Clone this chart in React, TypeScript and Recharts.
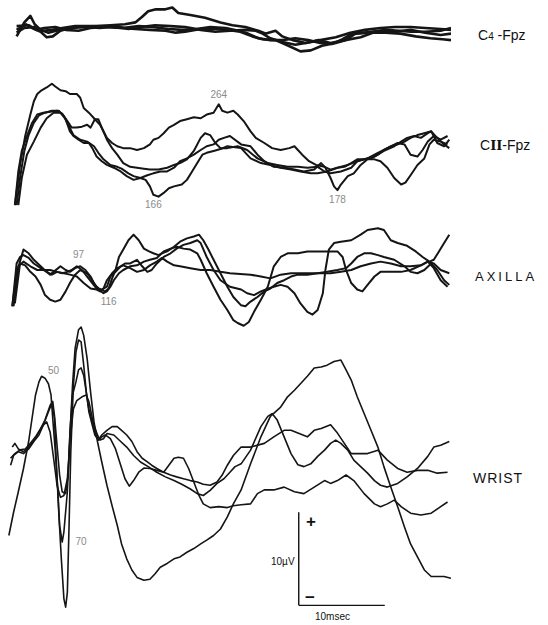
import React from 'react'
import { LineChart, Line, XAxis, YAxis, ReferenceLine, ReferenceDot } from 'recharts'

type Pt = [number, number]

// each point is [time in msec, amplitude in µV], positive up
const c4A: Pt[] = [[0.5,-0.9],[1.4,0.6],[2.1,1.3],[2.6,0.4],[3.3,-0.2],[4.2,-0.5],[5.1,-0.3],[6.3,0],[7.9,0.1],[9.7,0.2],[11.4,0.3],[13.1,0.4],[14.3,0.6],[15.1,1.2],[15.8,1.8],[16.7,2.0],[17.8,2.0],[18.6,2.2],[19.3,1.6],[20.7,1.4],[22.4,1.1],[24.2,0.6],[25.6,0.3],[27.1,0.1],[28.6,-0.3],[29.5,-0.6],[30.6,-0.3],[31.4,-0.9],[32.6,-1.3],[34.1,-1.6],[35.8,-1.3],[37.6,-1.0],[39.3,-0.5],[41.0,-0.2],[42.8,0],[44.5,0.1],[46.3,0.1],[48.0,0],[49.8,-0.1],[51.0,-0.2]]
const c4B: Pt[] = [[0.5,-0.2],[1.6,0.4],[2.3,0],[3.3,-0.4],[4.0,-1.0],[4.7,-0.9],[5.6,-0.3],[6.7,0],[8.5,0.1],[10.2,0],[12.0,0.2],[13.5,-0.1],[14.9,0.1],[16.6,0.3],[18.4,0.2],[20.1,0.1],[21.9,-0.2],[23.6,-0.4],[25.3,-0.3],[27.1,-0.2],[28.3,-0.3],[29.1,-0.6],[30.0,-1.1],[31.4,-1.5],[32.9,-1.8],[34.1,-1.6],[35.6,-1.3],[37.0,-1.6],[38.7,-1.3],[39.9,-0.6],[41.0,-0.5],[42.8,-0.3],[44.5,-0.4],[46.3,-0.2],[48.0,-0.5],[49.8,-0.75],[51.0,-0.6]]
const c4C: Pt[] = [[0.5,0.2],[1.9,0.3],[2.8,-0.2],[3.7,0],[5.0,0.1],[6.2,-0.2],[7.7,-0.3],[9.1,0],[10.8,0.1],[12.6,0],[14.3,-0.1],[16.0,-0.2],[17.8,-0.3],[19.0,-0.5],[20.1,-0.4],[21.9,-0.1],[23.6,-0.1],[25.1,-0.2],[26.5,-0.4],[27.9,-0.9],[29.1,-1.2],[30.6,-1.3],[32.1,-1.9],[33.5,-2.5],[34.7,-2.4],[36.0,-1.9],[37.6,-1.6],[38.7,-1.3],[40.5,-1.0],[41.9,-0.5],[43.4,-0.5],[45.1,-0.6],[46.9,-0.9],[48.6,-1.1],[50.0,-1.2],[51.0,-1.3]]
const c4D: Pt[] = [[0.5,-0.5],[1.4,0],[2.6,0.1],[3.5,-0.3],[4.7,-0.2],[5.8,0],[7.3,0.2],[9.3,0.2],[11.2,0.1],[12.8,0],[14.7,0.2],[16.3,0.1],[18.1,-0.1],[19.8,-0.2],[21.4,-0.1],[23.0,0.1],[24.8,0],[26.3,-0.3],[27.4,-0.6],[28.6,-1.1],[30.0,-1.3],[31.4,-1.3],[32.9,-1.1],[34.4,-1.3],[35.8,-1.6],[37.2,-1.7],[38.4,-1.2],[39.5,-0.6],[41.4,-0.5],[43.4,-0.2],[44.9,-0.3],[46.3,-0.4],[48.0,-0.4],[49.8,-0.3],[51.0,0]]

const c2A: Pt[] = [[0.3,-5.9],[0.9,-1.6],[1.5,1.5],[2.1,3.8],[2.5,5.2],[2.9,6.0],[3.4,6.4],[4.0,6.7],[4.6,7.1],[5.0,6.8],[5.6,6.4],[6.2,6.3],[6.7,6.0],[7.5,6.0],[7.9,5.6],[8.3,4.5],[8.9,4.0],[9.5,3.4],[10.2,2.7],[10.6,2.0],[11.0,1.3],[11.6,0.75],[12.2,0.4],[12.9,0.2],[13.7,0.2],[14.5,0],[15.3,0.2],[16.0,0.6],[16.4,1.1],[17.0,1.3],[17.6,1.8],[18.2,2.4],[18.8,2.7],[19.5,3.1],[20.3,3.3],[21.1,3.5],[21.9,3.4],[22.6,3.8],[23.4,4.0],[24.0,4.9],[24.4,4.2],[25.0,4.0],[25.7,4.2],[26.2,3.8],[26.9,3.1],[27.7,2.0],[28.3,1.3],[29.3,0.75],[30.2,0.2],[31.2,0],[32.2,0.2],[32.8,0.4],[33.2,0],[33.7,-0.5],[34.5,-1.2],[35.3,-1.6],[36.3,-1.8],[37.0,-2.1],[37.8,-1.9],[38.6,-1.8],[39.4,-1.4],[40.1,-1.0],[40.9,-1.0],[41.7,-0.9],[42.5,-0.5],[43.2,0],[44.0,0.4],[44.8,0.6],[45.6,0.9],[46.3,1.3],[47.1,1.6],[47.9,1.8],[48.7,2.0],[49.4,0.75],[50.2,0.4],[50.8,1.1]]
const c2B: Pt[] = [[0.5,-5.9],[0.9,-3.0],[1.4,-0.1],[1.9,1.6],[2.5,2.9],[3.1,3.7],[3.8,4.0],[4.6,4.2],[5.4,4.2],[6.0,3.6],[6.5,2.7],[7.1,1.6],[7.9,1.1],[8.7,0.9],[9.5,0.4],[10.0,-0.3],[10.6,-1.0],[11.4,-1.6],[12.2,-1.8],[12.7,-2.0],[13.5,-2.5],[14.1,-2.8],[14.9,-3.0],[15.5,-3.2],[16.0,-3.9],[16.4,-4.8],[17.0,-5.0],[17.6,-4.6],[18.2,-4.1],[18.8,-3.9],[19.7,-3.7],[20.3,-3.2],[20.9,-2.3],[21.5,-1.4],[22.1,-0.5],[22.6,-0.3],[23.4,-0.1],[24.2,0.1],[25.0,0.4],[26.6,0.2],[27.7,-0.9],[28.9,-1.4],[30.0,-1.6],[31.2,-1.9],[32.4,-2.1],[33.5,-2.3],[34.7,-2.5],[35.5,-2.5],[36.6,-2.3],[37.8,-1.9],[39.0,-1.6],[40.1,-1.2],[41.3,-0.9],[42.5,-0.3],[43.6,0.2],[44.8,0.75],[45.6,0.6],[46.3,-0.5],[47.1,-0.7],[47.7,0],[48.3,0.9],[49.0,1.5],[49.8,1.1],[50.6,1.5]]
const c2C: Pt[] = [[0.3,-5.9],[0.7,-2.3],[1.1,-0.1],[1.7,1.5],[2.3,2.9],[2.9,3.8],[3.6,4.0],[4.4,4.1],[5.2,4.2],[5.8,3.9],[6.4,3.1],[6.9,2.4],[7.5,2.4],[8.1,2.5],[8.7,2.7],[9.1,2.4],[9.6,3.3],[10.0,3.3],[10.4,2.4],[11.0,1.1],[11.6,0.2],[12.2,-0.5],[12.9,-1.4],[13.7,-1.8],[14.5,-1.9],[15.3,-2.0],[16.0,-2.1],[17.0,-2.1],[18.0,-1.9],[18.8,-1.6],[19.5,-1.4],[20.3,-1.0],[21.1,-0.1],[21.9,1.3],[22.4,1.8],[23.0,1.6],[23.6,0.75],[24.2,0.2],[25.0,0.2],[26.2,0.4],[27.3,0],[28.5,-0.9],[29.7,-1.4],[30.8,-1.6],[32.0,-1.8],[33.2,-1.8],[34.3,-1.9],[35.5,-1.8],[36.3,-2.3],[37.0,-2.5],[38.2,-2.3],[39.4,-1.9],[40.1,-1.2],[40.9,-1.0],[42.1,-0.7],[43.2,-0.1],[44.4,0.4],[45.2,0.9],[45.9,1.3],[46.7,1.5],[47.5,1.3],[48.3,1.8],[48.7,2.0],[49.4,1.3],[50.2,0.6],[50.8,0.2]]
const c2D: Pt[] = [[0.7,-5.9],[1.1,-3.0],[1.7,-0.5],[2.5,0.9],[3.3,2.4],[4.0,3.4],[4.8,4.0],[5.6,4.0],[6.2,3.3],[6.7,2.0],[7.1,1.5],[7.7,1.1],[8.3,0.75],[8.9,0.75],[9.3,0.2],[9.8,-0.7],[10.4,-1.2],[11.0,-1.6],[11.8,-1.9],[12.6,-2.3],[13.3,-2.8],[14.1,-3.2],[14.9,-3.0],[15.7,-2.7],[16.4,-2.5],[17.2,-2.3],[18.0,-2.3],[18.8,-1.9],[19.5,-1.2],[20.3,-0.9],[21.1,-0.5],[21.9,0],[22.6,0.4],[23.4,0.6],[24.0,1.1],[24.6,1.3],[25.3,1.5],[26.6,0.6],[27.7,0.4],[28.5,-0.5],[29.3,-1.2],[30.4,-1.8],[31.6,-1.9],[32.8,-2.1],[33.9,-2.3],[35.1,-2.1],[35.9,-1.4],[36.4,-1.9],[37.0,-3.0],[37.4,-3.9],[37.8,-4.3],[38.2,-3.7],[39.0,-2.8],[39.7,-2.5],[40.5,-1.6],[41.3,-1.0],[42.1,-1.0],[42.8,-1.2],[43.6,-1.9],[44.4,-3.0],[45.2,-3.7],[45.7,-3.5],[46.3,-2.7],[47.1,-1.6],[47.9,-0.9],[48.5,0.6],[49.0,1.1],[49.8,0.9],[50.6,0.6]]

const axA: Pt[] = [[0,-3.9],[0.5,-0.35],[1.3,2.2],[1.9,1.8],[2.5,1.1],[3.3,0.4],[4.0,-0.2],[4.4,-0.5],[4.8,-0.2],[5.6,0.4],[6.2,0],[6.7,-0.2],[7.3,0.2],[7.9,0.4],[8.5,0],[9.1,-0.7],[9.6,-1.6],[10.2,-2.1],[10.8,-2.3],[11.2,-2.0],[11.6,-0.9],[12.0,0],[12.4,1.4],[12.9,2.2],[13.5,3.2],[14.1,3.8],[14.7,3.2],[15.3,2.3],[15.9,2.0],[16.4,1.8],[17.0,1.6],[17.4,1.8],[18.0,2.0],[18.8,2.5],[19.5,3.05],[20.3,3.4],[21.1,3.6],[21.7,3.8],[22.2,3.2],[22.8,2.2],[23.4,1.1],[24.2,-0.35],[25.0,-1.8],[25.7,-2.9],[26.6,-3.8],[27.1,-3.9],[27.7,-3.4],[28.5,-2.9],[29.3,-2.3],[30.0,-2.0],[30.8,-1.4],[31.6,-1.1],[32.4,-0.7],[33.2,-0.5],[34.3,-0.5],[35.5,-0.35],[36.6,-0.2],[37.8,0],[38.8,0.2],[39.4,0.7],[40.1,1.4],[40.9,1.8],[41.7,1.8],[42.5,1.6],[43.2,1.4],[44.4,1.1],[45.6,0.4],[46.3,-0.2],[47.1,-0.35],[47.9,0],[48.7,0.7],[49.4,0],[50.2,-1.1],[50.8,-1.6]]
const axB: Pt[] = [[0,-3.9],[0.5,0.7],[0.9,1.4],[1.3,1.6],[1.9,1.3],[2.5,0.7],[3.3,0.2],[4.0,-0.2],[4.6,-0.5],[5.2,-0.2],[5.8,-0.35],[6.4,-0.2],[6.9,0],[7.5,0.4],[8.1,0],[8.7,-0.7],[9.3,-1.4],[9.8,-2.0],[10.4,-2.1],[11.0,-1.8],[11.4,-0.7],[12.0,-0.2],[12.6,0.4],[13.1,0.7],[13.7,0.7],[14.5,1.1],[15.1,0.4],[15.7,-0.2],[16.2,0],[16.8,0.7],[17.6,1.4],[18.4,1.8],[19.1,2.3],[19.9,2.7],[20.7,2.9],[21.5,3.2],[21.9,2.9],[22.6,1.4],[23.4,0],[24.2,-1.1],[25.3,-1.8],[26.6,-2.1],[27.3,-2.5],[28.1,-2.7],[28.9,-2.3],[29.7,-2.0],[30.4,-1.8],[31.2,-1.6],[32.0,-1.8],[32.8,-2.5],[33.5,-3.6],[34.3,-4.5],[34.9,-4.8],[35.5,-4.3],[36.1,-2.5],[36.4,0],[36.8,2.2],[37.4,2.9],[38.2,3.05],[39.4,3.2],[40.5,3.8],[41.3,4.3],[42.5,4.5],[43.2,4.3],[44.0,3.2],[44.8,2.9],[45.9,2.6],[46.9,2.0],[47.7,1.4],[48.5,0.9],[49.0,1.1],[49.6,2.0],[50.2,2.9],[50.8,3.8]]
const axC: Pt[] = [[0.15,-3.9],[0.7,0.4],[1.3,0.9],[2.1,0.4],[2.9,0],[3.6,0],[4.4,0],[5.2,-0.2],[6.0,-0.35],[6.7,-0.5],[7.5,-0.7],[8.3,-1.4],[9.1,-2.0],[9.8,-2.1],[10.2,-2.3],[10.6,-2.0],[11.0,-1.1],[11.6,-0.35],[12.2,0.2],[12.9,0.5],[13.7,0.2],[14.5,-0.2],[15.3,0],[16.0,0.5],[16.8,0.9],[17.4,1.3],[18.0,0.9],[18.8,0.5],[19.5,0.4],[20.7,0.2],[21.9,0],[23.0,0],[24.2,-0.2],[25.3,-0.35],[27.7,-0.5],[28.9,-0.7],[30.0,-0.9],[31.2,-0.5],[32.4,-0.35],[33.5,-0.35],[34.7,-0.35],[35.9,-0.35],[37.0,-0.35],[38.2,-0.2],[39.4,0],[40.5,0.4],[41.7,0.7],[42.8,0.9],[44.0,0.7],[45.2,0.4],[46.3,0.4],[47.5,0.5],[48.3,0.9],[49.0,0.7],[49.8,0],[50.8,-0.35]]
const axD: Pt[] = [[0.3,-3.6],[0.9,0.7],[1.5,0.5],[2.1,-0.2],[2.7,-0.7],[3.3,-1.6],[3.8,-2.7],[4.4,-3.2],[5.0,-3.4],[5.6,-3.2],[6.2,-2.3],[6.7,-1.4],[7.3,-0.5],[7.9,0],[8.7,-0.35],[9.5,-1.4],[10.0,-2.1],[10.6,-2.5],[11.0,-2.3],[11.4,-1.8],[11.8,-1.1],[12.4,-0.35],[12.9,0],[13.7,0.4],[14.5,0.5],[15.3,0.9],[16.0,1.1],[16.8,1.3],[17.6,2.0],[18.4,2.3],[19.1,2.5],[19.9,2.3],[20.7,2.2],[21.5,1.8],[21.9,1.1],[22.6,-0.35],[23.4,-1.8],[24.2,-3.2],[25.0,-4.3],[25.7,-5.4],[26.2,-5.7],[26.9,-6.0],[27.5,-5.6],[28.1,-4.5],[28.9,-3.2],[29.7,-1.8],[30.4,0.4],[31.2,1.4],[32.0,1.8],[33.2,1.8],[34.3,2.0],[35.5,2.0],[36.6,2.0],[37.8,2.0],[38.4,1.4],[38.8,0],[39.4,-1.4],[40.1,-2.1],[40.7,-2.3],[41.3,-1.6],[42.1,-0.7],[42.8,-0.2],[44.0,-0.2],[45.2,-0.2],[46.3,0],[47.5,0.5],[48.3,0.9],[49.0,0.2],[49.8,-1.1],[50.6,-1.8]]

const wrA: Pt[] = [[-0.4,-8.1],[0.15,-5.6],[0.7,-3.4],[1.3,-0.9],[1.9,2.0],[2.3,4.5],[2.7,7.0],[3.1,8.4],[3.4,9.0],[3.8,8.8],[4.2,8.2],[4.5,7.0],[4.7,4.5],[5.0,0.9],[5.3,-3.4],[5.5,-7.0],[5.8,-8.8],[6.0,-7.7],[6.4,-3.4],[6.7,2.7],[7.0,8.0],[7.3,12.0],[7.7,14.0],[8.0,14.3],[8.3,13.4],[8.7,10.9],[9.1,7.3],[9.5,4.1],[9.9,2.0],[10.4,-0.2],[11.0,-2.7],[11.6,-4.9],[12.2,-7.0],[12.7,-9.0],[13.3,-10.6],[13.9,-11.8],[14.5,-12.6],[15.3,-12.9],[16.0,-12.8],[16.6,-12.2],[17.2,-11.5],[18.0,-11.1],[18.8,-10.6],[19.5,-10.4],[20.3,-9.9],[21.1,-9.5],[21.9,-9.0],[22.6,-8.6],[23.4,-8.1],[24.2,-7.4],[25.0,-6.1],[25.7,-4.7],[26.6,-3.2],[27.7,-0.4],[28.9,2.5],[30.0,4.7],[31.2,5.7],[32.0,6.8],[32.8,7.5],[33.5,8.2],[34.3,9.0],[35.1,9.9],[35.9,10.0],[36.6,10.2],[37.4,10.6],[38.2,10.75],[38.8,9.7],[39.4,8.6],[40.1,6.8],[40.9,5.0],[41.7,3.2],[42.5,1.4],[43.2,-0.7],[44.0,-2.9],[44.8,-5.0],[45.6,-7.2],[46.3,-9.0],[47.1,-10.4],[47.9,-11.8],[48.7,-12.5],[49.4,-12.5],[50.2,-12.5],[51.0,-12.7]]
const wrB: Pt[] = [[-0.2,-0.55],[0.15,0.5],[0.7,0.9],[1.3,0.7],[1.9,1.2],[2.5,2.0],[3.1,2.7],[3.6,3.75],[4.2,5.2],[4.6,6.1],[4.9,4.5],[5.1,0.2],[5.4,-5.6],[5.7,-10.6],[6.0,-14.9],[6.2,-15.8],[6.4,-14.2],[6.6,-7.0],[6.8,0.9],[7.1,8.0],[7.4,11.6],[7.7,12.9],[8.0,12.7],[8.3,10.2],[8.6,7.3],[8.9,5.2],[9.3,3.75],[9.6,2.7],[10.0,2.15],[10.4,2.7],[11.0,3.2],[11.6,3.6],[12.2,3.6],[12.7,3.2],[13.3,2.7],[13.9,2.0],[14.5,0.9],[15.1,0.2],[15.7,-0.2],[16.2,-0.55],[16.8,-0.9],[17.6,-1.3],[18.4,-1.6],[19.1,-1.8],[19.9,-2.0],[20.7,-2.2],[21.5,-2.35],[22.2,-2.6],[23.0,-2.7],[23.8,-2.35],[24.4,-1.6],[25.0,-0.55],[25.7,0.5],[26.6,1.4],[27.7,1.4],[29.3,1.8],[30.4,2.5],[31.6,3.2],[32.4,3.2],[33.2,2.9],[34.3,2.5],[35.1,3.2],[35.9,3.4],[37.0,3.8],[37.8,2.9],[38.6,1.8],[39.4,0.7],[40.1,0.7],[41.3,0.7],[42.5,1.07],[43.6,0],[44.8,-0.9],[45.9,-1.3],[47.1,-1.1],[48.3,-1.1],[49.4,-1.4],[50.6,-1.3]]
const wrC: Pt[] = [[0,1.4],[0.3,1.8],[0.7,1.2],[1.3,0.9],[1.9,1.4],[2.5,2.1],[3.1,3.0],[3.6,3.75],[4.0,4.1],[4.4,3.0],[4.8,0.2],[5.2,-2.7],[5.6,-4.0],[6.0,-3.8],[6.4,-2.0],[6.7,2.0],[7.1,5.5],[7.5,6.4],[8.1,6.8],[8.6,7.0],[8.9,6.3],[9.3,4.5],[9.6,3.0],[10.0,2.15],[10.4,2.5],[10.8,2.7],[11.4,2.3],[12.0,1.2],[12.6,-0.55],[13.1,-2.0],[13.6,-2.8],[14.1,-2.2],[14.7,-1.3],[15.3,-0.85],[16.0,-0.9],[16.8,-1.1],[17.6,-1.3],[18.2,-0.55],[18.8,0.2],[19.3,0.3],[19.9,0.2],[20.5,-0.9],[21.1,-2.35],[21.7,-3.8],[22.2,-4.7],[23.0,-5.1],[24.0,-5.0],[25.0,-5.1],[25.7,-4.9],[26.6,-4.8],[27.7,-4.7],[28.5,-3.6],[29.3,-3.2],[30.4,-3.2],[31.6,-2.9],[32.8,-3.4],[33.9,-3.6],[35.1,-2.9],[36.3,-2.2],[37.0,-2.5],[37.8,-2.2],[38.8,-1.6],[39.7,-2.2],[40.9,-3.6],[42.1,-4.7],[42.8,-5.0],[43.6,-4.7],[44.4,-4.3],[45.2,-5.0],[46.3,-5.7],[47.5,-5.9],[48.7,-5.7],[49.8,-5.0],[50.6,-4.5]]
const wrD: Pt[] = [[-0.2,0.2],[0.3,0.7],[0.9,1.1],[1.5,1.2],[2.1,1.8],[2.7,2.5],[3.3,3.4],[3.8,4.3],[4.4,5.9],[4.7,6.3],[4.9,4.8],[5.2,1.6],[5.5,-1.6],[5.8,-3.4],[6.2,-3.6],[6.5,-1.6],[6.7,3.0],[7.0,7.0],[7.4,8.4],[7.7,9.7],[8.0,9.9],[8.3,9.1],[8.6,7.3],[8.9,5.5],[9.3,4.1],[9.5,3.75],[9.9,2.7],[10.2,2.15],[10.6,2.3],[11.0,2.85],[11.8,2.7],[12.6,2.0],[13.3,1.4],[14.1,0.5],[14.9,-0.2],[15.8,-0.7],[16.8,-1.3],[17.8,-1.8],[18.8,-2.2],[19.7,-2.6],[20.7,-3.1],[21.5,-3.6],[22.2,-3.8],[23.0,-3.25],[23.8,-2.5],[24.6,-2.0],[25.3,-1.3],[25.9,-0.7],[26.6,-0.4],[27.7,1.07],[28.9,3.6],[29.7,4.7],[30.2,5.0],[30.8,4.3],[31.6,2.5],[32.4,0.7],[33.2,-0.5],[33.9,-0.7],[34.7,-0.4],[35.5,0.4],[36.3,1.07],[37.0,1.8],[37.6,2.15],[38.2,1.8],[39.0,1.07],[39.7,0],[40.5,-0.7],[41.3,-1.4],[42.1,-2.2],[42.8,-2.7],[43.6,-2.9],[44.8,-2.5],[45.9,-1.8],[47.1,-0.9],[48.3,0.4],[49.0,1.4],[49.8,1.6],[50.8,2.0]]

// latency marks written beside the peaks
const c2Peaks = [{ t: 24.0, v: 5.9, text: '264' }, { t: 16.4, v: -5.8, text: '166' }, { t: 37.8, v: -5.3, text: '178' }]
const axPeaks = [{ t: 7.7, v: 1.7, text: '97' }, { t: 11.2, v: -3.4, text: '116' }]
const wrPeaks = [{ t: 4.8, v: 9.6, text: '50' }, { t: 8.0, v: -8.7, text: '70' }]

// calibration bar
const barStart = { t: 33.3, v: -15.6 }
const barMs = 10
const barUv = 10

const toRows = (pts: Pt[]) => pts.map(([t, v]) => ({ t, v }))

type Peak = { t: number; v: number; text: string }

function Panel({ top, height, domain, traces, width, peaks = [], children }: {
  top: number; height: number; domain: [number, number]; traces: Pt[][]; width: number; peaks?: Peak[]; children?: React.ReactNode
}) {
  return (
    <div style={{ position: 'absolute', left: 8, top }}>
      <LineChart width={443} height={height} margin={{ top: 0, right: 0, bottom: 0, left: 0 }}>
        <XAxis type="number" dataKey="t" domain={[-0.5, 51]} hide allowDataOverflow />
        <YAxis type="number" dataKey="v" domain={domain} hide allowDataOverflow />
        {traces.map((tr, i) => (
          <Line key={i} data={toRows(tr)} dataKey="v" type="linear" dot={false} stroke="#151515" strokeWidth={width} strokeLinejoin="round" isAnimationActive={false} />
        ))}
        {peaks.map((p) => (
          <ReferenceDot key={p.text} x={p.t} y={p.v} r={0} stroke="none" fill="none"
            label={{ value: p.text, position: 'center', fill: '#8a8a8a', fontSize: 10, fontFamily: 'Liberation Sans, Arial, sans-serif' }} />
        ))}
        {children}
      </LineChart>
    </div>
  )
}

function Txt({ x, y, size = 13, spacing = 0, weight = 400, color = '#111', children }: {
  x: number; y: number; size?: number; spacing?: number; weight?: number; color?: string; children: React.ReactNode
}) {
  return (
    <div style={{ position: 'absolute', left: x, top: y, transform: 'translateY(-50%)', fontFamily: 'Liberation Sans, Arial, sans-serif', fontSize: size, letterSpacing: spacing, fontWeight: weight, color, lineHeight: 1, whiteSpace: 'nowrap' }}>
      {children}
    </div>
  )
}

export default function App() {
  return (
    <div style={{ position: 'absolute', left: 0, top: 0, width: 548, height: 625, background: '#fff' }}>
      <Panel top={0} height={56} domain={[-3, 3]} traces={[c4A, c4B, c4C, c4D]} width={2.6} />
      <Panel top={80} height={140} domain={[-7.5, 7.5]} traces={[c2A, c2B, c2C, c2D]} width={2} peaks={c2Peaks} />
      <Panel top={208} height={124} domain={[-6.67, 6.67]} traces={[axA, axB, axC, axD]} width={2} peaks={axPeaks} />
      <Panel top={320} height={290} domain={[-16.1, 15.05]} traces={[wrA, wrB, wrC, wrD]} width={1.6} peaks={wrPeaks}>
        <ReferenceLine segment={[{ x: barStart.t, y: barStart.v + barUv }, { x: barStart.t, y: barStart.v }]} stroke="#111" strokeWidth={1.4} ifOverflow="visible" />
        <ReferenceLine segment={[{ x: barStart.t, y: barStart.v }, { x: barStart.t + barMs, y: barStart.v }]} stroke="#111" strokeWidth={1.4} ifOverflow="visible" />
      </Panel>

      <Txt x={478} y={35} size={14}>C<span style={{ fontSize: 10 }}>4</span> -Fpz</Txt>
      <Txt x={480} y={145} size={14}>C<span style={{ fontFamily: 'DejaVu Serif, serif', fontWeight: 700, fontSize: 13 }}>II</span>-Fpz</Txt>
      <Txt x={475} y={276} size={13} spacing={3}>AXILLA</Txt>
      <Txt x={473} y={478} size={14} spacing={1}>WRIST</Txt>

      <Txt x={306} y={521} size={17} weight={700}>+</Txt>
      <Txt x={305} y={597} size={17} weight={700}>−</Txt>
      <Txt x={271} y={562} size={10}>10µV</Txt>
      <Txt x={315} y={617} size={10}>10msec</Txt>
    </div>
  )
}
